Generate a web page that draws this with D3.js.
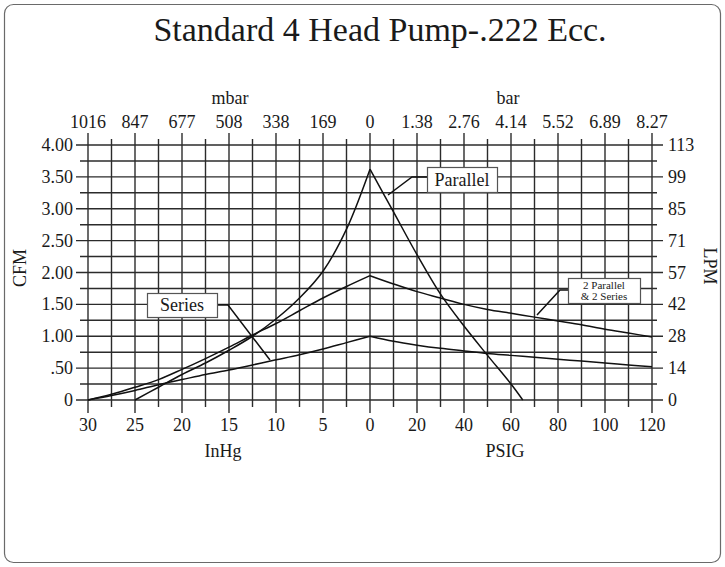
<!DOCTYPE html>
<html><head><meta charset="utf-8">
<script src="https://cdn.jsdelivr.net/npm/d3@7"></script>
<style>
body{margin:0;background:#fff}
text{font-family:"Liberation Serif","Times New Roman",serif;fill:#1a1a1a}
</style>
</head><body>
<svg id="c" width="725" height="567"></svg>
<script>
// ---- tick values & labels ----
const vacMajor = [30,25,20,15,10,5,0];
const vacMinor = [27.5,22.5,17.5,12.5,7.5,2.5];
const psiMajor = [0,20,40,60,80,100,120];
const psiMinor = [10,30,50,70,90,110];
const mbarLabels = ["1016","847","677","508","338","169","0"];
const barTicks = [20,40,60,80,100,120];
const barLabels = ["1.38","2.76","4.14","5.52","6.89","8.27"];
const cfmMajor = [0,0.5,1,1.5,2,2.5,3,3.5,4];
const cfmMinor = [0.25,0.75,1.25,1.75,2.25,2.75,3.25,3.75];
const cfmLabels = ["0",".50","1.00","1.50","2.00","2.50","3.00","3.50","4.00"];
const lpmLabels = ["0","14","28","42","57","71","85","99","113"];

// ---- series (vacuum side in InHg, pressure side in PSIG) ----
const parallelVacX = [25,22.5,20,17.5,15,12.5,10,7.5,5,2.5,0];
const parallelVac  = [0,0.2,0.4,0.58,0.78,1.0,1.27,1.6,2.02,2.68,3.62];
const parallelPsiX = [0,10,20,30,40,50,60,65];
const parallelPsi  = [3.62,2.95,2.28,1.66,1.16,0.7,0.25,0];

const twoTwoVacX = [30,27.5,25,22.5,20,17.5,15,12.5,10,7.5,5,2.5,0];
const twoTwoVac  = [0,0.09,0.2,0.32,0.48,0.65,0.83,1.02,1.2,1.4,1.6,1.78,1.95];
const twoTwoPsiX = [0,10,20,30,40,50,60,70,80,90,100,110,120];
const twoTwoPsi  = [1.95,1.82,1.7,1.6,1.5,1.42,1.36,1.3,1.24,1.18,1.11,1.05,0.99];

const seriesVacX = [30,27.5,25,22.5,20,17.5,15,12.5,10,7.5,5,2.5,0];
const seriesVac  = [0,0.07,0.15,0.24,0.32,0.4,0.47,0.55,0.63,0.71,0.8,0.9,1.0];
const seriesPsiX = [0,10,20,30,40,50,60,70,80,90,100,110,120];
const seriesPsi  = [1.0,0.92,0.86,0.81,0.77,0.73,0.7,0.67,0.64,0.61,0.58,0.55,0.52];

const svg = d3.select("#c");
const xVac = d3.scaleLinear().domain([30,0]).range([88,370]);
const xPsi = d3.scaleLinear().domain([0,120]).range([370,652]);
const y = d3.scaleLinear().domain([0,4]).range([400,145]);

// frame
svg.append("rect").attr("x",4.5).attr("y",4.5).attr("width",716).attr("height",558)
  .attr("rx",9).attr("fill","none").attr("stroke","#6a6a6a").attr("stroke-width",1.2);

// title
svg.append("text").attr("x",380).attr("y",41).attr("text-anchor","middle")
  .attr("font-size",34).text("Standard 4 Head Pump-.222 Ecc.");

const grid = svg.append("g").attr("stroke","#2b2b2b").attr("stroke-width",1.4);
const [y0, yTop] = [y(0), y(4)];
// vertical grid lines (with top/bottom extensions)
const vLines = [
  ...vacMajor.map(v=>({x:xVac(v),major:true})),
  ...vacMinor.map(v=>({x:xVac(v),major:false})),
  ...psiMajor.filter(v=>v>0).map(v=>({x:xPsi(v),major:true})),
  ...psiMinor.map(v=>({x:xPsi(v),major:false}))
];
grid.selectAll(".v").data(vLines).join("line")
  .attr("x1",d=>d.x).attr("x2",d=>d.x)
  .attr("y1",d=>yTop-(d.major?12:6)).attr("y2",d=>y0+(d.major?13:7));
// horizontal grid lines
const hLines = [...cfmMajor.map(v=>({y:y(v),major:true})), ...cfmMinor.map(v=>({y:y(v),major:false}))];
grid.selectAll(".h").data(hLines).join("line")
  .attr("x1",d=>d.major?76:80).attr("x2",d=>d.major?663:657)
  .attr("y1",d=>d.y).attr("y2",d=>d.y);

const fs = 18;
// left labels
svg.append("g").selectAll("text").data(cfmMajor).join("text")
  .attr("x",73).attr("y",d=>y(d)+6).attr("text-anchor","end").attr("font-size",fs)
  .text((d,i)=>cfmLabels[i]);
// right labels
svg.append("g").selectAll("text").data(cfmMajor).join("text")
  .attr("x",668).attr("y",d=>y(d)+6).attr("text-anchor","start").attr("font-size",fs)
  .text((d,i)=>lpmLabels[i]);
// bottom labels
svg.append("g").selectAll("text").data(vacMajor).join("text")
  .attr("x",d=>xVac(d)).attr("y",431).attr("text-anchor","middle").attr("font-size",fs).text(d=>d);
svg.append("g").selectAll("text").data(psiMajor.filter(v=>v>0)).join("text")
  .attr("x",d=>xPsi(d)).attr("y",431).attr("text-anchor","middle").attr("font-size",fs).text(d=>d);
// top labels
svg.append("g").selectAll("text").data(vacMajor).join("text")
  .attr("x",d=>xVac(d)).attr("y",128).attr("text-anchor","middle").attr("font-size",fs)
  .text((d,i)=>mbarLabels[i]);
svg.append("g").selectAll("text").data(barTicks).join("text")
  .attr("x",d=>xPsi(d)).attr("y",128).attr("text-anchor","middle").attr("font-size",fs)
  .text((d,i)=>barLabels[i]);
// axis titles
svg.append("text").attr("x",230).attr("y",104).attr("text-anchor","middle").attr("font-size",fs).text("mbar");
svg.append("text").attr("x",508).attr("y",104).attr("text-anchor","middle").attr("font-size",fs).text("bar");
svg.append("text").attr("x",223).attr("y",457).attr("text-anchor","middle").attr("font-size",fs).text("InHg");
svg.append("text").attr("x",505).attr("y",457).attr("text-anchor","middle").attr("font-size",fs).text("PSIG");
svg.append("text").attr("transform","translate(26,268) rotate(-90)").attr("text-anchor","middle").attr("font-size",fs).text("CFM");
svg.append("text").attr("transform","translate(704,266) rotate(90)").attr("text-anchor","middle").attr("font-size",fs).text("LPM");

// curves
const curves = svg.append("g").attr("fill","none").attr("stroke","#111").attr("stroke-width",1.5);
function draw(xs, vs, sx){
  const pts = xs.map((v,i)=>[sx(v), y(vs[i])]);
  curves.append("path").attr("d", d3.line().curve(d3.curveCatmullRom.alpha(0.5))(pts));
}
draw(parallelVacX, parallelVac, xVac);
draw(parallelPsiX, parallelPsi, xPsi);
draw(twoTwoVacX, twoTwoVac, xVac);
draw(twoTwoPsiX, twoTwoPsi, xPsi);
draw(seriesVacX, seriesVac, xVac);
draw(seriesPsiX, seriesPsi, xPsi);

// callouts
const call = svg.append("g");
function box(x,yb,w,h){
  call.append("rect").attr("x",x+0.5).attr("y",yb+0.5).attr("width",w).attr("height",h)
    .attr("fill","#fff").attr("stroke","#555").attr("stroke-width",1.2);
}
function leader(pts){
  call.append("path").attr("d",d3.line()(pts)).attr("fill","none").attr("stroke","#111").attr("stroke-width",1.5);
}
leader([[427,y(3.5)],[412,y(3.5)],[388,195]]);
box(427,167,70,25);
call.append("text").attr("x",462).attr("y",186).attr("text-anchor","middle").attr("font-size",18).text("Parallel");

leader([[217,305],[228,305],[270,360]]);
box(147,293,70,24);
call.append("text").attr("x",182).attr("y",311).attr("text-anchor","middle").attr("font-size",18).text("Series");

leader([[568,290],[560,290],[537,315]]);
box(568,278,72,25);
call.append("text").attr("x",604).attr("y",289).attr("text-anchor","middle").attr("font-size",11).text("2 Parallel");
call.append("text").attr("x",604).attr("y",300).attr("text-anchor","middle").attr("font-size",11).text("& 2 Series");
</script>
</body></html>
